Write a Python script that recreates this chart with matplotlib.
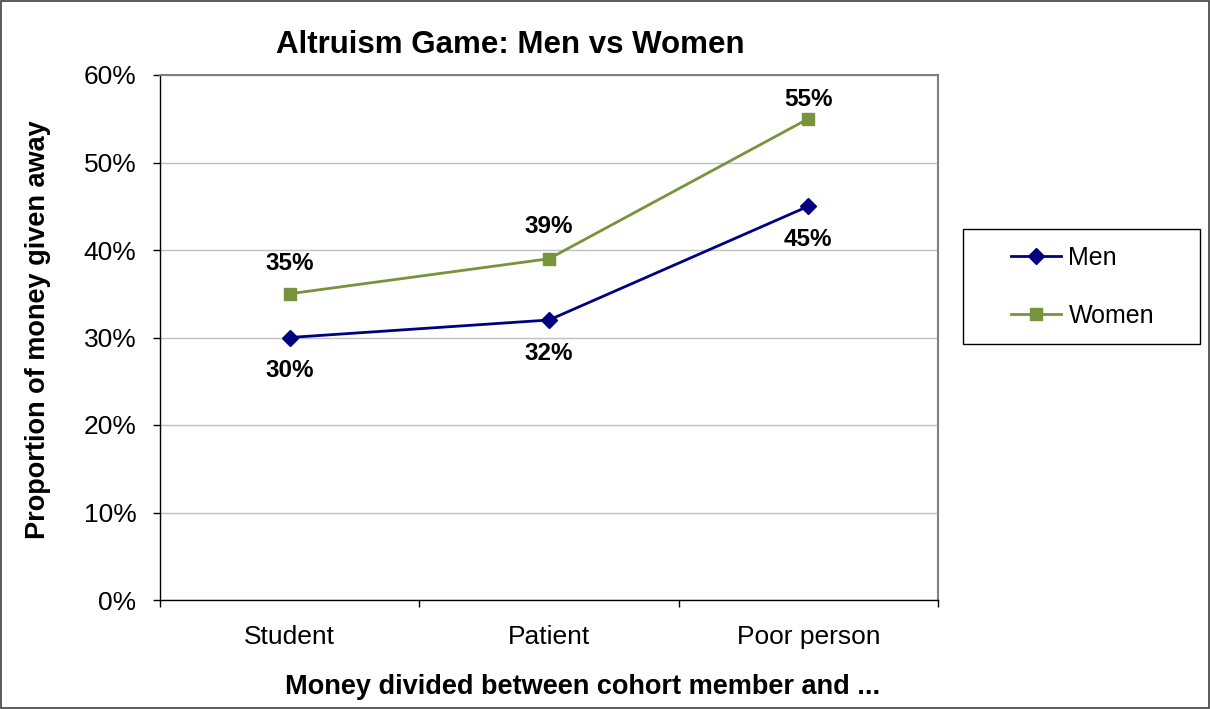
import matplotlib
matplotlib.use("Agg")
import matplotlib.pyplot as plt
from matplotlib.patches import Rectangle
from matplotlib.ticker import FixedLocator, PercentFormatter

categories = ["Student", "Patient", "Poor person"]
men = [30, 32, 45]
women = [35, 39, 55]
yticks = [0, 10, 20, 30, 40, 50, 60]

plt.rcParams['font.family'] = ['Liberation Sans', 'DejaVu Sans']

fig = plt.figure(figsize=(12.1, 7.09), dpi=100)
ax = fig.add_axes([160 / 1210, 1 - 600 / 709, 778 / 1210, 525 / 709])

x = list(range(len(categories)))
navy = "#000080"
green = "#77933C"

ax.plot(x, men, color=navy, lw=2, marker="D", ms=8, label="Men", zorder=3)
ax.plot(x, women, color=green, lw=2, marker="s", ms=9, label="Women", zorder=3)

# data labels: men below, women above (top one squeezed by the plot edge)
for xi, v in zip(x, men):
    ax.annotate(f"{v}%", (xi, v), xytext=(0, -24), textcoords="offset points",
                ha="center", va="center", fontsize=17.5, fontweight="bold")
women_off = [22, 23, 14]
for xi, v, off in zip(x, women, women_off):
    ax.annotate(f"{v}%", (xi, v), xytext=(0, off), textcoords="offset points",
                ha="center", va="center", fontsize=17.5, fontweight="bold")

ax.set_xlim(-0.5, 2.5)
ax.set_ylim(0, 60)
ax.set_yticks(yticks)
ax.yaxis.set_major_formatter(PercentFormatter(decimals=0))
ax.set_xticks(x)
ax.set_xticklabels(categories)
ax.xaxis.set_minor_locator(FixedLocator([-0.5, 0.5, 1.5, 2.5]))
ax.tick_params(axis="x", which="major", length=0, labelsize=19, pad=18)
ax.tick_params(axis="x", which="minor", length=5, width=1, color="black")
ax.tick_params(axis="y", length=5, width=1, labelsize=19, pad=12)
ax.grid(axis="y", color="#c0c0c0", lw=1)
ax.set_axisbelow(True)

for side in ["left", "bottom"]:
    ax.spines[side].set_color("black")
    ax.spines[side].set_linewidth(1)
for side in ["top", "right"]:
    ax.spines[side].set_color("#808080")
    ax.spines[side].set_linewidth(1.5)

fig.text(510 / 1210, 1 - 45 / 709, "Altruism Game: Men vs Women", fontsize=22.5,
         fontweight="bold", ha="center", va="center")
fig.text(583 / 1210, 1 - 687 / 709, "Money divided between cohort member and ...",
         fontsize=19.5, fontweight="bold", ha="center", va="center")
fig.text(38 / 1210, 1 - 330 / 709, "Proportion of money given away", fontsize=19.5,
         fontweight="bold", ha="center", va="center", rotation=90)

# legend: frame drawn separately so the entries can sit inside it
fig.patches.append(Rectangle((963 / 1210, 1 - 344 / 709), 237 / 1210, 115 / 709,
                             transform=fig.transFigure, fill=False,
                             edgecolor="black", lw=1))
leg = ax.legend(loc="upper left", bbox_to_anchor=(1011 / 1210, 1 - 246 / 709),
                bbox_transform=fig.transFigure, fontsize=18, frameon=False,
                borderpad=0, labelspacing=1.35, handlelength=2.0,
                handletextpad=0.3, borderaxespad=0)

fig.patches.append(Rectangle((0.001, 0.001), 0.998, 0.998, transform=fig.transFigure,
                             fill=False, edgecolor="#404040", lw=1.2))

fig.savefig("out.png", dpi=100)
